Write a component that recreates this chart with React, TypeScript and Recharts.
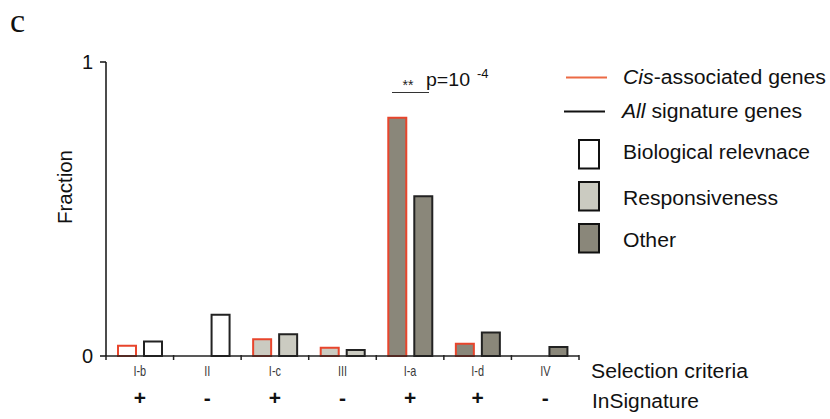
import React from 'react';
import { BarChart, Bar, XAxis, YAxis, Cell } from 'recharts';

// Selection criteria categories along the x axis
const categories = ['I-b', 'II', 'I-c', 'III', 'I-a', 'I-d', 'IV'];
// Fraction of cis-associated genes in each category
const cisFraction = [0.035, 0, 0.057, 0.028, 0.81, 0.042, 0];
// Fraction of all signature genes in each category
const allFraction = [0.049, 0.14, 0.074, 0.02, 0.543, 0.08, 0.031];
// Criterion group of each category
const criteriaGroup = ['bio', 'bio', 'resp', 'resp', 'other', 'other', 'other'];
// Whether the category is in the signature
const inSignature = ['+', '-', '+', '-', '+', '+', '-'];

const groupFill: Record<string, string> = {
  bio: '#ffffff',
  resp: '#cbcbc1',
  other: '#8a877a',
};
const groupLabels = [
  { key: 'bio', label: 'Biological relevnace', len: 187, base: 159 },
  { key: 'resp', label: 'Responsiveness', len: 155, base: 205 },
  { key: 'other', label: 'Other', len: 53, base: 246.5 },
];

const CIS_COLOR = '#e8452c';
const ALL_COLOR = '#222222';
const FONT = '"Liberation Sans", Arial, sans-serif';

const data = categories.map((cat, i) => ({
  cat,
  cis: cisFraction[i],
  all: allFraction[i],
  group: criteriaGroup[i],
  sig: inSignature[i],
}));

const W = 830;
const H = 419;
const margin = { top: 62, right: 251, bottom: 5, left: 40 };
const yAxisWidth = 66;
const plotLeft = margin.left + yAxisWidth;
const plotWidth = W - plotLeft - margin.right;
const band = plotWidth / categories.length;

const CategoryTick = (props: any) => {
  const { x, y, payload, index } = props;
  const left = x - band / 2;
  const right = x + band / 2;
  return (
    <g>
      <line x1={left} y1={y - 1} x2={left} y2={y + 4} stroke="#222" strokeWidth={1.5} />
      {index === categories.length - 1 && (
        <line x1={right} y1={y - 1} x2={right} y2={y + 4} stroke="#222" strokeWidth={1.5} />
      )}
      <text
        x={x}
        y={y + 20}
        textAnchor="middle"
        fontSize={14}
        fontFamily={FONT}
        fill="#3a3a3a"
        style={{ transform: 'scaleX(0.78)', transformBox: 'fill-box', transformOrigin: 'center' }}
      >
        {payload.value}
      </text>
    </g>
  );
};

const SignTick = (props: any) => {
  const { x, y, index } = props;
  return (
    <text
      x={x}
      y={y + 21}
      textAnchor="middle"
      fontSize={21}
      fontWeight="bold"
      fontFamily={FONT}
      fill="#111"
    >
      {data[index] ? data[index].sig : ''}
    </text>
  );
};

export default function App() {
  return (
    <div style={{ position: 'absolute', left: 0, top: 0, width: W, height: H, background: '#fff' }}>
      <BarChart
        width={W}
        height={H}
        data={data}
        margin={margin}
        barSize={18}
        barGap={8}
      >
        <YAxis
          width={yAxisWidth}
          domain={[0, 1]}
          ticks={[0, 1]}
          type="number"
          axisLine={{ stroke: '#111', strokeWidth: 1.5 }}
          tickLine={{ stroke: '#111', strokeWidth: 1.5 }}
          tickSize={6}
          tickMargin={7}
          tick={{ fontSize: 20, fill: '#111', fontFamily: FONT }}
        />
        <XAxis
          dataKey="cat"
          height={28}
          axisLine={{ stroke: '#222', strokeWidth: 1.5 }}
          tickLine={false}
          tickSize={0}
          tickMargin={0}
          interval={0}
          tick={<CategoryTick />}
        />
        <XAxis
          xAxisId="sig"
          dataKey="cat"
          height={30}
          axisLine={false}
          tickLine={false}
          tickSize={0}
          tickMargin={0}
          interval={0}
          tick={<SignTick />}
        />
        <Bar dataKey="cis" stroke={CIS_COLOR} strokeWidth={2} isAnimationActive={false}>
          {data.map((d) => (
            <Cell key={d.cat} fill={groupFill[d.group]} />
          ))}
        </Bar>
        <Bar dataKey="all" stroke={ALL_COLOR} strokeWidth={2} isAnimationActive={false}>
          {data.map((d) => (
            <Cell key={d.cat} fill={groupFill[d.group]} />
          ))}
        </Bar>
      </BarChart>

      <svg
        width={W}
        height={H}
        style={{ position: 'absolute', left: 0, top: 0, pointerEvents: 'none' }}
        fontFamily={FONT}
      >
        <text x={10} y={31.5} fontSize={34} fontFamily='"Liberation Serif", "Times New Roman", serif' fill="#111">
          c
        </text>
        <text
          x={0}
          y={0}
          transform="translate(72,187) rotate(-90)"
          textAnchor="middle"
          fontSize={20}
          fill="#111"
          textLength={74}
          lengthAdjust="spacingAndGlyphs"
        >
          Fraction
        </text>

        {/* significance bracket between the I-a bars */}
        <line x1={392} y1={92.5} x2={429} y2={92.5} stroke="#333" strokeWidth={1.2} />
        <text x={408} y={90} textAnchor="middle" fontSize={14} fill="#222">**</text>
        <text x={426} y={86} fontSize={19} fill="#111" textLength={44} lengthAdjust="spacingAndGlyphs">p=10</text>
        <text x={477} y={78} fontSize={13} fill="#111">-4</text>

        <text x={591} y={378} fontSize={20} fill="#111" textLength={157} lengthAdjust="spacingAndGlyphs">
          Selection criteria
        </text>
        <text x={592} y={408} fontSize={20} fill="#111" textLength={107} lengthAdjust="spacingAndGlyphs">
          InSignature
        </text>

        {/* legend */}
        <line x1={566} y1={77.5} x2={607} y2={77.5} stroke="#ec6a45" strokeWidth={2} />
        <text x={623} y={84} fontSize={20} fill="#111" textLength={203} lengthAdjust="spacingAndGlyphs">
          <tspan fontStyle="italic">Cis</tspan>-associated genes
        </text>
        <line x1={564} y1={111.5} x2={605} y2={111.5} stroke="#111" strokeWidth={2} />
        <text x={622} y={117.5} fontSize={20} fill="#111" textLength={180} lengthAdjust="spacingAndGlyphs">
          <tspan fontStyle="italic">All</tspan> signature genes
        </text>
        {groupLabels.map((g, i) => (
          <g key={g.key}>
            <rect
              x={579}
              y={140 + i * 42}
              width={20}
              height={28.5}
              fill={groupFill[g.key]}
              stroke="#111"
              strokeWidth={2}
            />
            <text
              x={623}
              y={g.base}
              fontSize={20}
              fill="#111"
              textLength={g.len}
              lengthAdjust="spacingAndGlyphs"
            >
              {g.label}
            </text>
          </g>
        ))}
      </svg>
    </div>
  );
}
